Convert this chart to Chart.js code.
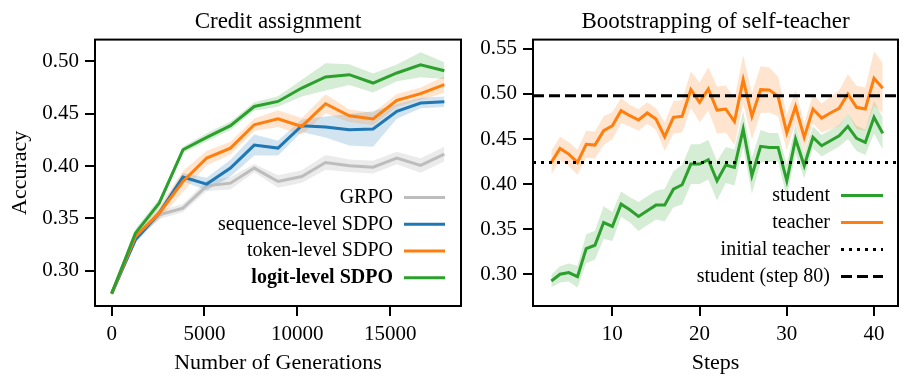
<!DOCTYPE html>
<html><head><meta charset="utf-8">
<script src="https://cdn.jsdelivr.net/npm/chart.js@4.4.1/dist/chart.umd.min.js"></script>
<style>
html,body{margin:0;padding:0;background:#fff;}
#wrap{position:relative;width:913px;height:383px;overflow:hidden;}
#c1{position:absolute;left:0;top:0;width:470px;height:383px;}
#c2{position:absolute;left:470px;top:0;width:443px;height:383px;}
</style></head><body>
<div id="wrap"><canvas id="c1" width="470" height="383"></canvas><canvas id="c2" width="443" height="383"></canvas></div>
<script>
// ---------- Left panel: Credit assignment ----------
const generations = [0,1280,2560,3840,5120,6400,7680,8960,10240,11520,12800,14080,15360,16640,17920];
const grpo    = [0.278,0.331,0.3533,0.3597,0.381,0.3836,0.398,0.3852,0.390,0.4034,0.4002,0.3989,0.4076,0.4005,0.4114];
const seqSDPO = [0.278,0.3294,0.355,0.3894,0.3827,0.398,0.420,0.4171,0.4385,0.4372,0.4346,0.4353,0.4522,0.4602,0.4614];
const tokSDPO = [0.278,0.3325,0.3549,0.3852,0.4076,0.4171,0.4394,0.4452,0.4378,0.4595,0.448,0.4449,0.4627,0.4691,0.4777];
const logSDPO = [0.278,0.3358,0.3645,0.4155,0.4273,0.4385,0.4569,0.4617,0.4745,0.4851,0.4873,0.4793,0.4889,0.4968,0.4911];
const grpoErr = [0.001,0.003,0.004,0.004,0.005,0.006,0.004,0.006,0.006,0.007,0.006,0.006,0.006,0.007,0.007];
const seqErr  = [0.001,0.003,0.004,0.004,0.006,0.008,0.010,0.007,0.006,0.010,0.015,0.017,0.007,0.005,0.005];
const tokErr  = [0.001,0.003,0.006,0.010,0.007,0.006,0.006,0.008,0.008,0.009,0.006,0.006,0.006,0.006,0.008];
const logErr  = [0.001,0.004,0.004,0.003,0.004,0.004,0.004,0.005,0.008,0.013,0.010,0.009,0.008,0.012,0.008];
const leftXTicks = [0,5000,10000,15000];
const leftYTicks = [0.30,0.35,0.40,0.45,0.50];

// ---------- Right panel: Bootstrapping of self-teacher ----------
const steps = [3,4,5,6,7,8,9,10,11,12,13,14,15,16,17,18,19,20,21,22,23,24,25,26,27,28,29,30,31,32,33,34,35,36,37,38,39,40,41];
const student = [0.2926,0.30,0.3019,0.2974,0.3285,0.3322,0.3574,0.353,0.3778,0.3715,0.3641,0.3704,0.3767,0.3767,0.3944,0.3993,0.4222,0.4222,0.427,0.4037,
                 0.4211,0.4185,0.4611,0.4093,0.4419,0.4407,0.4407,0.4037,0.45,0.4204,0.4519,0.4426,0.4481,0.4537,0.4641,0.4507,0.4463,0.4741,0.4563];
const teacher = [0.4241,0.4396,0.4333,0.4241,0.4441,0.4433,0.4593,0.4648,0.4815,0.4759,0.4711,0.4789,0.4722,0.4526,0.4741,0.4752,0.5048,0.4907,0.5056,0.4822,
                 0.4833,0.4693,0.5159,0.4752,0.5048,0.5044,0.4974,0.457,0.4859,0.4519,0.4833,0.4733,0.4789,0.4841,0.50,0.4852,0.4833,0.5174,0.5063];
const studentErr = [0.007,0.009,0.010,0.012,0.016,0.016,0.018,0.016,0.014,0.014,0.016,0.016,0.016,0.018,0.020,0.022,0.022,0.022,0.022,0.022,
                    0.020,0.020,0.020,0.020,0.018,0.016,0.016,0.018,0.016,0.014,0.012,0.012,0.012,0.012,0.014,0.014,0.014,0.018,0.018];
const teacherErr = [0.013,0.013,0.013,0.014,0.015,0.015,0.016,0.015,0.014,0.012,0.012,0.012,0.012,0.016,0.018,0.018,0.020,0.022,0.024,0.026,
                    0.026,0.026,0.027,0.026,0.026,0.025,0.022,0.020,0.018,0.016,0.016,0.016,0.018,0.020,0.022,0.024,0.024,0.030,0.028];
const initialTeacher = 0.424;
const studentStep80 = 0.498;
const rightXTicks = [10,20,30,40];
const rightYTicks = [0.30,0.35,0.40,0.45,0.50,0.55];

// ---------- helpers ----------
const FONT = '"Liberation Serif", "Times New Roman", serif';
Chart.defaults.font.family = FONT;
Chart.defaults.color = '#000';

const COLORS = {
  blue: '#1f77b4', orange: '#ff7f0e', green: '#2ca02c', gray: '#bdbdbd'
};
const BANDS = {
  blue: 'rgba(31,119,180,0.2)', orange: 'rgba(255,127,14,0.2)', green: 'rgba(44,160,44,0.2)', gray: 'rgba(189,189,189,0.3)'
};

function pts(xs, ys) { return xs.map((x, i) => ({x: x, y: ys[i]})); }

function lineSet(label, xs, ys, color, order, row, extra) {
  return Object.assign({
    label: label, data: pts(xs, ys), borderColor: color, backgroundColor: color,
    borderWidth: 3, pointRadius: 0, tension: 0, fill: false, order: order, legendRow: row
  }, extra || {});
}

function addBand(list, xs, mean, err, color, order) {
  const lowerIdx = list.length;
  list.push({ label: '', data: pts(xs, mean.map((m, i) => m - err[i])), borderWidth: 0,
    borderColor: 'rgba(0,0,0,0)', pointRadius: 0, fill: false, order: order });
  list.push({ label: '', data: pts(xs, mean.map((m, i) => m + err[i])), borderWidth: 0,
    borderColor: 'rgba(0,0,0,0)', backgroundColor: color, pointRadius: 0,
    fill: { target: lowerIdx }, order: order });
}

const framePlugin = {
  id: 'frame',
  afterDraw(chart) {
    const {ctx, chartArea: a} = chart;
    ctx.save();
    ctx.strokeStyle = '#000'; ctx.lineWidth = 2; ctx.setLineDash([]);
    ctx.strokeRect(a.left, a.top, a.right - a.left, a.bottom - a.top);
    ctx.restore();
  }
};

const sideLegend = {
  id: 'sideLegend',
  afterDraw(chart, args, opts) {
    const {ctx, chartArea: a} = chart;
    const items = chart.data.datasets.filter(d => d.legendRow !== undefined)
      .sort((p, q) => p.legendRow - q.legendRow);
    items.forEach((d, i) => {
      const y = a.top + opts.top + i * opts.rowHeight;
      const x1 = a.right - opts.right, x0 = x1 - opts.lineLength;
      ctx.save();
      ctx.strokeStyle = d.borderColor; ctx.lineWidth = d.borderWidth;
      ctx.setLineDash(d.borderDash || []);
      ctx.beginPath(); ctx.moveTo(x0, y); ctx.lineTo(x1, y); ctx.stroke();
      ctx.setLineDash([]);
      ctx.fillStyle = '#000'; ctx.textAlign = 'right'; ctx.textBaseline = 'middle';
      ctx.font = (d.legendBold ? 'bold ' : '') + opts.size + 'px ' + FONT;
      ctx.fillText(d.label, x0 - opts.gap, y);
      ctx.restore();
    });
  }
};

function axis(min, max, ticks, fmt, fitFn, title) {
  return {
    type: 'linear', min: min, max: max,
    afterBuildTicks: s => { s.ticks = ticks.map(v => ({value: v})); },
    afterFit: fitFn,
    grid: { display: true, drawOnChartArea: false, drawTicks: true, tickLength: 10,
            lineWidth: 2, tickWidth: 2, color: '#000', tickColor: '#000' },
    border: { display: false },
    ticks: { color: '#000', font: { size: 21 }, padding: 6, maxRotation: 0, autoSkip: false, callback: fmt },
    title: title
  };
}

// ---------- Left chart ----------
const leftSets = [
  lineSet('logit-level SDPO', generations, logSDPO, COLORS.green, 1, 3, { legendBold: true }),
  lineSet('token-level SDPO', generations, tokSDPO, COLORS.orange, 2, 2),
  lineSet('sequence-level SDPO', generations, seqSDPO, COLORS.blue, 3, 1),
  lineSet('GRPO', generations, grpo, COLORS.gray, 4, 0)
];
addBand(leftSets, generations, logSDPO, logErr, BANDS.green, 10);
addBand(leftSets, generations, tokSDPO, tokErr, BANDS.orange, 11);
addBand(leftSets, generations, seqSDPO, seqErr, BANDS.blue, 12);
addBand(leftSets, generations, grpo, grpoErr, BANDS.gray, 13);

new Chart(document.getElementById('c1'), {
  type: 'line',
  data: { datasets: leftSets },
  options: {
    responsive: false, animation: false, events: [],
    layout: { padding: { left: 0, right: 9, top: 0, bottom: 0 } },
    plugins: {
      legend: { display: false }, tooltip: { enabled: false },
      title: { display: true, fullSize: false, text: 'Credit assignment', color: '#000',
               font: { size: 23, weight: 'normal' }, padding: { top: 8, bottom: 4 } },
      sideLegend: { top: 158, rowHeight: 26.7, right: 16, lineLength: 41, gap: 11, size: 20 }
    },
    scales: {
      x: axis(-896, 18816, leftXTicks, v => String(v), s => { s.height = 77; },
        { display: true, text: 'Number of Generations', color: '#000', font: { size: 22 }, padding: { top: 0, bottom: 7 } }),
      y: axis(0.2662, 0.5208, leftYTicks, v => v.toFixed(2), s => { s.width = 95; },
        { display: true, text: 'Accuracy', color: '#000', font: { size: 22 }, padding: { top: 7, bottom: 0 } })
    }
  },
  plugins: [framePlugin, sideLegend]
});

// ---------- Right chart ----------
const rightSets = [
  lineSet('student (step 80)', [0.9, 42.75], [studentStep80, studentStep80], '#000', 1, 3, { borderDash: [11, 5] }),
  lineSet('initial teacher', [0.9, 42.75], [initialTeacher, initialTeacher], '#000', 2, 2, { borderDash: [3, 5] }),
  lineSet('teacher', steps, teacher, COLORS.orange, 3, 1),
  lineSet('student', steps, student, COLORS.green, 4, 0)
];
addBand(rightSets, steps, teacher, teacherErr, BANDS.orange, 10);
addBand(rightSets, steps, student, studentErr, BANDS.green, 11);

new Chart(document.getElementById('c2'), {
  type: 'line',
  data: { datasets: rightSets },
  options: {
    responsive: false, animation: false, events: [],
    layout: { padding: { left: 0, right: 15, top: 0, bottom: 0 } },
    plugins: {
      legend: { display: false }, tooltip: { enabled: false },
      title: { display: true, fullSize: false, text: 'Bootstrapping of self-teacher', color: '#000',
               font: { size: 23, weight: 'normal' }, padding: { top: 8, bottom: 4 } },
      sideLegend: { top: 156, rowHeight: 27, right: 15, lineLength: 42, gap: 11, size: 20 }
    },
    scales: {
      x: axis(0.9, 42.75, rightXTicks, v => String(v), s => { s.height = 77; },
        { display: true, text: 'Steps', color: '#000', font: { size: 22 }, padding: { top: 0, bottom: 7 } }),
      y: axis(0.2648, 0.5603, rightYTicks, v => v.toFixed(2), s => { s.width = 63; }, { display: false })
    }
  },
  plugins: [framePlugin, sideLegend]
});
</script>
</body></html>
